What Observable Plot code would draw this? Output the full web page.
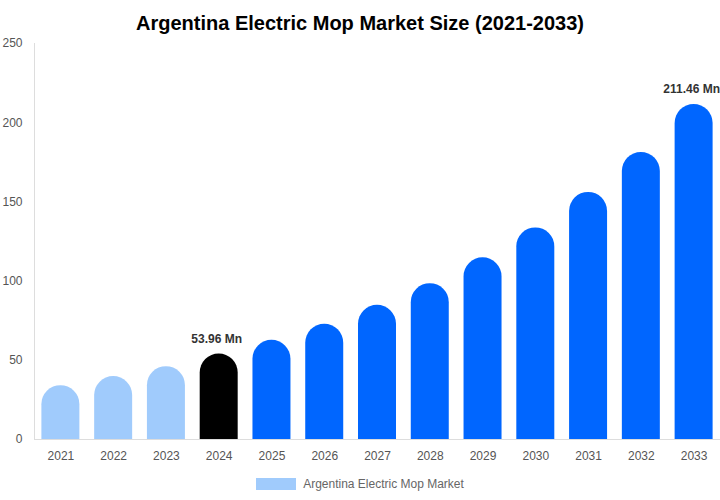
<!DOCTYPE html>
<html><head><meta charset="utf-8">
<script src="https://cdn.jsdelivr.net/npm/d3@7"></script>
<script src="https://cdn.jsdelivr.net/npm/@observablehq/plot@0.6"></script>
<style>
body{margin:0;background:#fff;font-family:"Liberation Sans",Arial,sans-serif;width:720px;}
#title{height:30px;padding-top:9px;line-height:28px;text-align:center;font-weight:bold;font-size:20px;color:#000;}
#chart svg{overflow:visible;}
#legend{height:28px;display:flex;justify-content:center;align-items:center;gap:7px;font-size:12px;color:#666;}
#legend .sw{display:inline-block;width:40px;height:12px;background:#a0cbfc;}
</style></head><body>
<div id="title">Argentina Electric Mop Market Size (2021-2033)</div>
<div id="chart"></div>
<div id="legend"><span class="sw"></span><span>Argentina Electric Mop Market</span></div>
<script>
const years = ["2021","2022","2023","2024","2025","2026","2027","2028","2029","2030","2031","2032","2033"];
const values = [34.0, 39.7, 46.0, 53.96, 62.6, 72.8, 84.7, 98.4, 114.7, 133.6, 156.0, 181.2, 211.46];
const kinds = ["hist","hist","hist","base","fc","fc","fc","fc","fc","fc","fc","fc","fc"];
const labels = ["","","","53.96 Mn","","","","","","","","","211.46 Mn"];
const yTicks = [0, 50, 100, 150, 200, 250];

const data = years.map((y, i) => ({year: y, value: values[i], kind: kinds[i], label: labels[i]}));
const colorMap = {hist: "#a0cbfc", base: "#000000", fc: "#0066ff"};

const plot = Plot.plot({
  width: 720,
  height: 431,
  marginTop: 4,
  marginBottom: 31,
  marginLeft: 34,
  marginRight: 0,
  style: {fontFamily: "'Liberation Sans', Arial, sans-serif", fontSize: "12px", background: "transparent"},
  x: {type: "band", domain: years, paddingInner: 0.28, paddingOuter: 0.14, round: false, label: null},
  y: {domain: [0, 250], label: null},
  marks: [
    Plot.frame({anchor: "left", stroke: "#dddddd"}),
    // bottom corners of the rounded rect fall below the baseline and are clipped away
    Plot.barY(data, {x: "year", y1: -20, y2: "value", fill: d => colorMap[d.kind], rx: 19, ry: 19, clip: true}),
    Plot.ruleY([0], {stroke: "#dddddd"}),
    Plot.axisX({tickSize: 0, tickPadding: 12, fill: "#555", fontSize: 12, label: null}),
    Plot.axisY({ticks: yTicks, tickSize: 0, tickPadding: 12, fill: "#555", fontSize: 12, label: null}),
    Plot.text(data.filter(d => d.label), {x: "year", y: "value", text: "label", dy: -15, dx: -2.5, fill: "#333", fontWeight: "bold", fontSize: 12})
  ]
});
document.getElementById("chart").appendChild(plot);
</script>
</body></html>
